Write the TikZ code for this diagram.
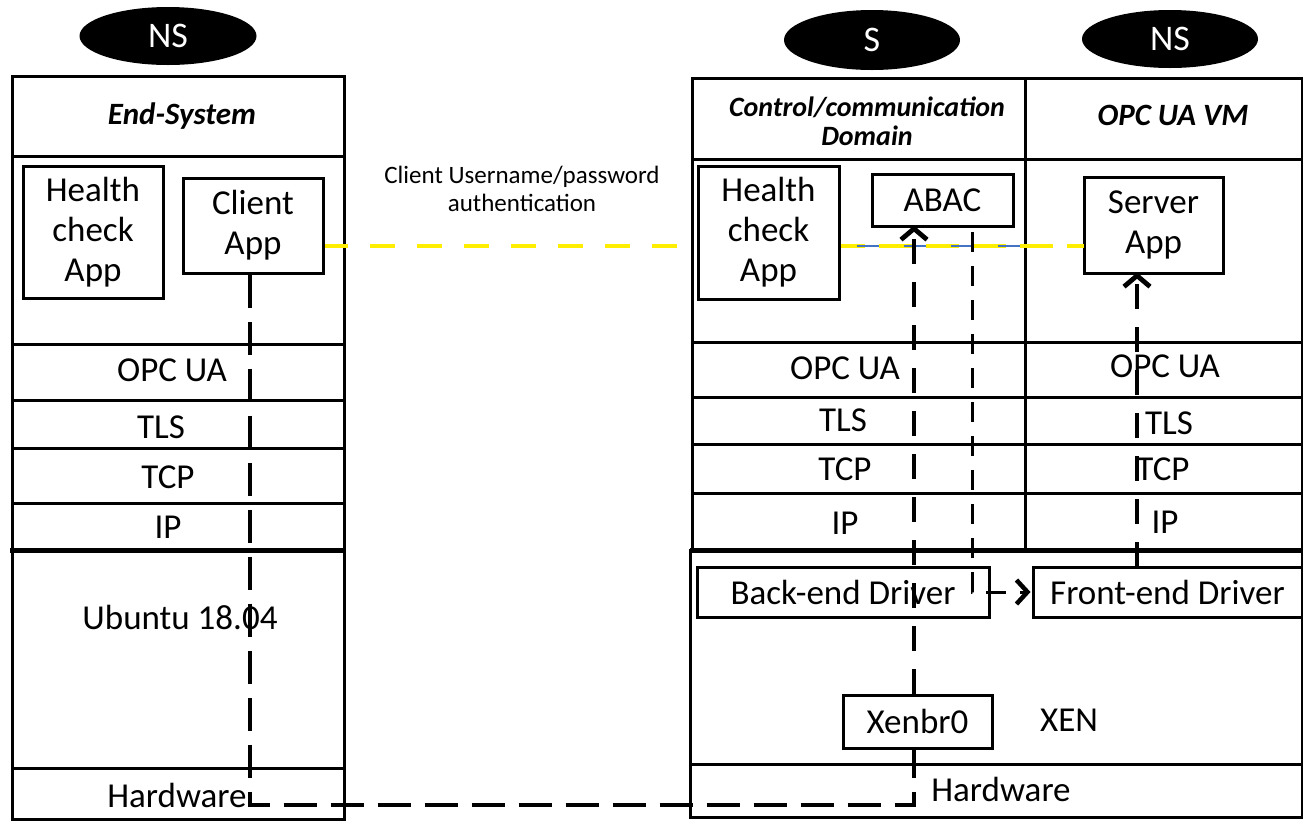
\documentclass[tikz,border=0pt]{standalone}
\usepackage{fontspec}
\setmainfont{Carlito}
\usetikzlibrary{shapes.geometric,arrows.meta}
\definecolor{ylw}{RGB}{255,238,0}
\definecolor{lnblue}{RGB}{68,114,196}
\newcommand{\fsMain}{\fontsize{35}{40}\selectfont}
\newcommand{\fsHead}{\fontsize{31}{33}\selectfont\bfseries\itshape}
\newcommand{\fsHeadB}{\fontsize{28}{30}\selectfont\bfseries\itshape}
\newcommand{\fsSmall}{\fontsize{25}{28}\selectfont}
\newcommand{\fsTag}{\fontsize{36}{38}\selectfont}
\begin{document}
\begin{tikzpicture}[x=1pt,y=-1pt,
  frame/.style={line width=3pt},
  thickrule/.style={line width=5pt},
  appbox/.style={draw, line width=3pt, fill=white, inner sep=0pt, align=center, font=\fsMain},
  tag/.style={ellipse, fill=black, text=white, font=\fsTag, inner sep=0pt},
  lbl/.style={font=\fsMain, inner sep=0pt, align=center},
  head/.style={font=\fsHead, inner sep=0pt, align=center},
  tipup/.style={-{Straight Barb[length=11pt,width=26pt]}},
  pathA/.style={line width=3.8pt, dash pattern=on 33pt off 14pt},
  pathB/.style={line width=4.8pt, dash pattern=on 25pt off 18pt},
  pathC/.style={line width=3pt, dash pattern=on 20pt off 14pt},
  authline/.style={ylw, line width=3.5pt, dash pattern=on 25pt off 22pt}
]
\useasboundingbox (0,0) rectangle (1303,823);

% ---- tags
\node[tag, minimum width=177pt, minimum height=58pt] (ns1) at (168,36) {NS};
\node[tag, minimum width=176pt, minimum height=60pt] (s) at (872,40) {S};
\node[tag, minimum width=176pt, minimum height=58pt] (ns2) at (1170,39) {NS};

% ---- left end-system stack
\draw[frame] (12,76) rectangle (344,819);
\draw[frame] (12,156) -- (344,156);
\draw[frame] (12,344) -- (344,344);
\draw[frame] (12,400) -- (344,400);
\draw[frame] (12,448) -- (344,448);
\draw[frame] (12,503) -- (344,503);
\draw[thickrule] (10,550) -- (346,550);
\draw[frame] (12,768) -- (344,768);
\node[head] (es) at (182,116) {End-System};
\node[lbl] (l-opc) at (172,370) {OPC UA};
\node[lbl] (l-tls) at (161,427) {TLS};
\node[lbl] (l-tcp) at (168,477) {TCP};
\node[lbl] (l-ip) at (168,527) {IP};
\node[lbl] (l-ubu) at (180,617) {Ubuntu 18.04};
\node[lbl] (l-hw) at (177,795) {Hardware};

% ---- right stack
\draw[frame] (692,78) rectangle (1302,550);
\draw[frame] (1025,78) -- (1025,550);
\draw[frame] (692,159) -- (1302,159);
\draw[frame] (692,342) -- (1302,342);
\draw[frame] (692,397) -- (1302,397);
\draw[frame] (692,444) -- (1302,444);
\draw[frame] (692,493) -- (1302,493);
\draw[frame] (690,550) rectangle (1302,817);
\draw[thickrule] (690,550) -- (1303,550);
\draw[frame] (690,764) -- (1302,764);
\node[head, font=\fsHeadB] (cd) at (867,121) {Control/communication\\[-1pt]Domain};
\node[head] (vm) at (1173,115) {OPC UA VM};
\node[lbl] (r-opc1) at (845,368) {OPC UA};
\node[lbl] (r-tls1) at (843,420) {TLS};
\node[lbl] (r-tcp1) at (845,469) {TCP};
\node[lbl] (r-ip1) at (845,523) {IP};
\node[lbl] (r-opc2) at (1165,366) {OPC UA};
\node[lbl] (r-tls2) at (1169,423) {TLS};
\node[lbl] (r-tcp2) at (1163,469) {TCP};
\node[lbl] (r-ip2) at (1165,522) {IP};
\node[lbl] (xen) at (1069,720) {XEN};
\node[lbl] (r-hw) at (1001,789) {Hardware};

% ---- authentication link (behind boxes)
\coordinate (ya) at (323,246);
\coordinate (yb) at (1084,246);
\draw[authline] (ya) -- (yb);
\node[font=\fsSmall, align=center, inner sep=0pt] (auth) at (522,189) {Client Username/password\\authentication};

% ---- boxes
\node[appbox, minimum width=140pt, minimum height=132pt] (hc1) at (93,232) {Health\\check\\App};
\node[appbox, minimum width=140pt, minimum height=95pt] (client) at (253,225.5) {Client\\App};
\node[appbox, minimum width=141pt, minimum height=133pt] (hc2) at (768.5,232.5) {Health\\check\\App};
\node[appbox, minimum width=141pt, minimum height=52pt] (abac) at (942.5,200) {ABAC};
\node[appbox, minimum width=139pt, minimum height=96pt] (server) at (1153.5,225) {Server\\App};
\node[appbox, minimum width=292pt, minimum height=50pt] (back) at (843,592) {Back-end Driver};
\node[appbox, minimum width=269pt, minimum height=50pt] (front) at (1167.5,592) {Front-end Driver};
\node[appbox, minimum width=149pt, minimum height=53pt] (xenbr) at (917.5,721.5) {Xenbr0};

% blue link from health check to the VM border
\coordinate (bl) at (1025,246);
\draw[lnblue, line width=1.3pt] (hc2.east |- bl) -- (bl);
\draw[authline, dash phase=9pt] (hc2.east |- bl) -- (yb);

% ---- data paths
\coordinate (c1) at (250,805);
\coordinate (c2) at (914,805);
\draw[pathA] (client.south -| c1) -- (c1) -- (c2) -- (xenbr.south -| c2);
\draw[pathB, tipup] (xenbr.north -| c2) -- ([yshift=2pt]abac.south -| c2);
\coordinate (c3) at (972,232);
\draw[pathC, -{Straight Barb[length=11pt,width=24pt,line width=4.5pt]}] (c3) |- ([xshift=-1pt]front.west);
\coordinate (c4) at (1137,567);
\draw[pathB, tipup] (c4) -- ([yshift=2pt]server.south -| c4);
\end{tikzpicture}
\end{document}
